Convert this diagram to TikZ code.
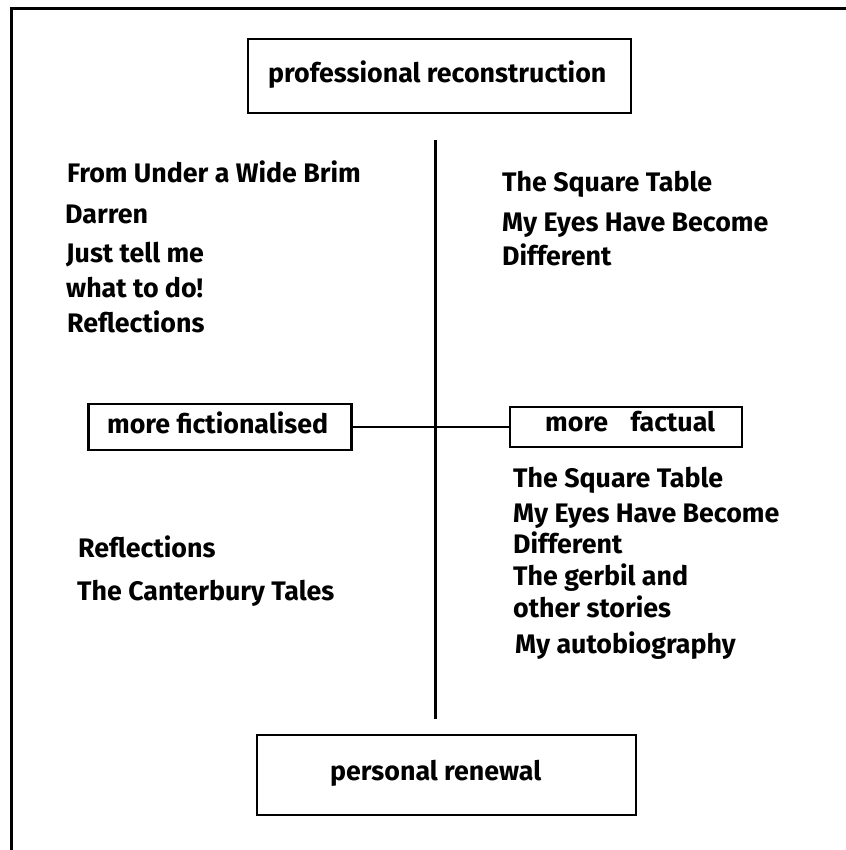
\documentclass[tikz,border=0pt]{standalone}
\usepackage{fontspec}
\setmainfont{Fira Sans}
\begin{document}
\begin{tikzpicture}[x=1pt,y=-1pt,
  box/.style={draw,line width=2.5pt,inner sep=0pt,rectangle},
  lbl/.style={anchor=base west,inner sep=0pt,font=\fontsize{26.8}{32}\selectfont\bfseries},
  rule/.style={line width=2.5pt}]
\useasboundingbox (0,0) rectangle (845,850);
% outer frame (only the top and left edges are inside the picture)
\coordinate (fTL) at (11,9);
\coordinate (fTR) at (850,9);
\coordinate (fBL) at (11,855);
\draw[line width=3pt] (fTR) -- (fTL) -- (fBL);
% boxes
\node[box,minimum width=383pt,minimum height=74pt] (top) at (439.5,76) {};
\node[box,minimum width=379pt,minimum height=80pt] (bot) at (446.5,775) {};
\node[box,minimum width=263pt,minimum height=46pt] (left) at (220,427) {};
\node[box,minimum width=232pt,minimum height=40pt] (right) at (626,427) {};
\node[lbl] (toptext) at (268,83) {professional reconstruction};
\node[lbl] (bottext) at (330,780) {personal renewal};
\node[lbl] (lefttext) at (107,433) {more fictionalised};
\node[lbl] (righttext) at (545,431) {more\hspace{0.6em} factual};
% axes
\coordinate (vtop) at (435.5,140);
\coordinate (vbot) at (435.5,719);
\draw[rule] (vtop) -- (vbot);
\draw[rule] (left.east) -- (right.west);
% upper left
\node[lbl] (ul1) at (67,183) {From Under a Wide Brim};
\node[lbl] (ul2) at (65,223) {Darren};
\node[lbl] (ul3) at (66,262) {Just tell me};
\node[lbl] (ul4) at (66,297) {what to do!};
\node[lbl] (ul5) at (67,332) {Reflections};
% upper right
\node[lbl] (ur1) at (502,192) {The Square Table};
\node[lbl] (ur2) at (502,232) {My Eyes Have Become};
\node[lbl] (ur3) at (502,265) {Different};
% lower right
\node[lbl] (lr1) at (513,487) {The Square Table};
\node[lbl] (lr2) at (513,522) {My Eyes Have Become};
\node[lbl] (lr3) at (513,553) {Different};
\node[lbl] (lr4) at (513,585) {The gerbil and};
\node[lbl] (lr5) at (513,617) {other stories};
\node[lbl] (lr6) at (515,653) {My autobiography};
% lower left
\node[lbl] (ll1) at (78,557) {Reflections};
\node[lbl] (ll2) at (77,600) {The Canterbury Tales};
\end{tikzpicture}
\end{document}
